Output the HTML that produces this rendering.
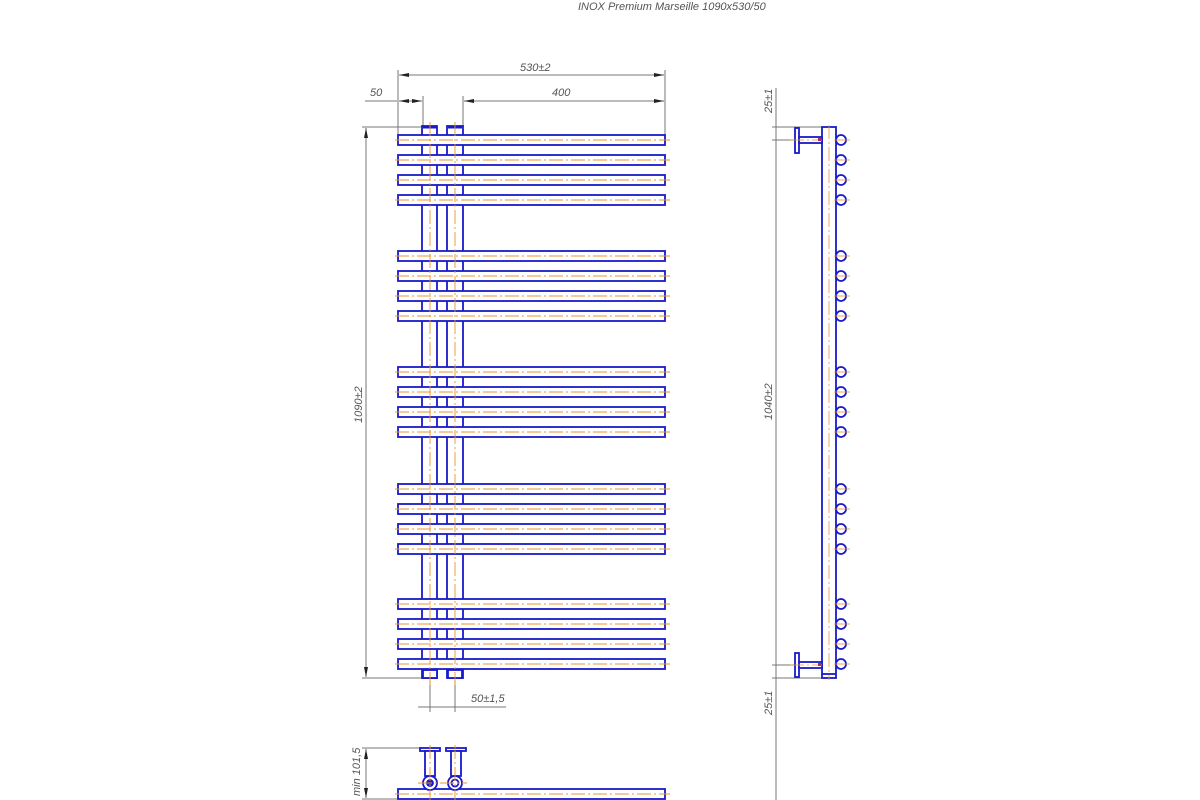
<!DOCTYPE html>
<html><head><style>body{margin:0;background:#fff}svg{display:block}text{font-family:"Liberation Sans",sans-serif;font-style:italic;fill:#555;font-size:11px}</style></head><body>
<svg width="1200" height="800" viewBox="0 0 1200 800">
<defs>
<marker id="a" viewBox="0 0 10 6" refX="10" refY="3" markerWidth="10" markerHeight="6" orient="auto-start-reverse" markerUnits="userSpaceOnUse"><path d="M0,1L10,3L0,5z" fill="#222"/></marker>
</defs>
<text x="578" y="10">INOX Premium Marseille 1090x530/50</text>
<g stroke="#777" stroke-width="1" fill="none">
<line x1="398" y1="70" x2="398" y2="135"/><line x1="665" y1="70" x2="665" y2="135"/>
<line x1="399" y1="75" x2="664" y2="75" marker-start="url(#a)" marker-end="url(#a)"/>
<line x1="423" y1="96" x2="423" y2="126"/><line x1="463" y1="96" x2="463" y2="126"/>
<line x1="365" y1="101" x2="397" y2="101"/>
<line x1="399" y1="101" x2="422" y2="101" marker-start="url(#a)" marker-end="url(#a)"/>
<line x1="464" y1="101" x2="664" y2="101" marker-start="url(#a)" marker-end="url(#a)"/>
<line x1="362" y1="127" x2="423" y2="127"/><line x1="362" y1="678" x2="423" y2="678"/>
<line x1="366" y1="128" x2="366" y2="677" marker-start="url(#a)" marker-end="url(#a)"/>
<line x1="430" y1="680" x2="430" y2="712"/><line x1="455" y1="680" x2="455" y2="712"/>
<line x1="418" y1="707" x2="506" y2="707"/>
<line x1="776" y1="88" x2="776" y2="800"/>
<line x1="772" y1="127" x2="822" y2="127"/><line x1="772" y1="140" x2="797" y2="140"/>
<line x1="772" y1="665" x2="797" y2="665"/><line x1="772" y1="678" x2="822" y2="678"/>
<line x1="362" y1="748" x2="420" y2="748"/><line x1="362" y1="799" x2="398" y2="799"/>
<line x1="366" y1="749" x2="366" y2="798" marker-start="url(#a)" marker-end="url(#a)"/>
</g>
<text x="520" y="71">530±2</text><text x="370" y="96">50</text><text x="552" y="96">400</text>
<text x="471" y="702">50±1,5</text>
<text transform="translate(362,423) rotate(-90)">1090±2</text>
<text transform="translate(772,420) rotate(-90)">1040±2</text>
<text transform="translate(772,113) rotate(-90)">25±1</text>
<text transform="translate(772,715) rotate(-90)">25±1</text>
<text transform="translate(360,796) rotate(-90)">min 101,5</text>
<g stroke="#1a1ac8" stroke-width="1.8" fill="#fff">
<rect x="422" y="126" width="15" height="552"/><rect x="447" y="126" width="16" height="552"/>
<rect x="423" y="670" width="14" height="8"/><rect x="448" y="670" width="14" height="8"/>
</g>
<g stroke="#1a1ac8" stroke-width="3"><line x1="423" y1="127" x2="437" y2="127"/><line x1="448" y1="127" x2="462" y2="127"/></g>
<g stroke="#1a1ac8" stroke-width="1.8" fill="#fff">
<rect x="398" y="135" width="267" height="10"/><rect x="398" y="155" width="267" height="10"/><rect x="398" y="175" width="267" height="10"/><rect x="398" y="195" width="267" height="10"/>
<rect x="398" y="251" width="267" height="10"/><rect x="398" y="271" width="267" height="10"/><rect x="398" y="291" width="267" height="10"/><rect x="398" y="311" width="267" height="10"/>
<rect x="398" y="367" width="267" height="10"/><rect x="398" y="387" width="267" height="10"/><rect x="398" y="407" width="267" height="10"/><rect x="398" y="427" width="267" height="10"/>
<rect x="398" y="484" width="267" height="10"/><rect x="398" y="504" width="267" height="10"/><rect x="398" y="524" width="267" height="10"/><rect x="398" y="544" width="267" height="10"/>
<rect x="398" y="599" width="267" height="10"/><rect x="398" y="619" width="267" height="10"/><rect x="398" y="639" width="267" height="10"/><rect x="398" y="659" width="267" height="10"/>
</g>
<g stroke="#e89530" stroke-width="0.9" stroke-dasharray="14,3,2,3">
<line x1="395" x2="670" y1="140" y2="140"/><line x1="395" x2="670" y1="160" y2="160"/><line x1="395" x2="670" y1="180" y2="180"/><line x1="395" x2="670" y1="200" y2="200"/>
<line x1="395" x2="670" y1="256" y2="256"/><line x1="395" x2="670" y1="276" y2="276"/><line x1="395" x2="670" y1="296" y2="296"/><line x1="395" x2="670" y1="316" y2="316"/>
<line x1="395" x2="670" y1="372" y2="372"/><line x1="395" x2="670" y1="392" y2="392"/><line x1="395" x2="670" y1="412" y2="412"/><line x1="395" x2="670" y1="432" y2="432"/>
<line x1="395" x2="670" y1="489" y2="489"/><line x1="395" x2="670" y1="509" y2="509"/><line x1="395" x2="670" y1="529" y2="529"/><line x1="395" x2="670" y1="549" y2="549"/>
<line x1="395" x2="670" y1="604" y2="604"/><line x1="395" x2="670" y1="624" y2="624"/><line x1="395" x2="670" y1="644" y2="644"/><line x1="395" x2="670" y1="664" y2="664"/>
<line x1="430" y1="122" x2="430" y2="685"/><line x1="455" y1="122" x2="455" y2="685"/>
</g>
<g stroke="#1a1ac8" stroke-width="1.8" fill="#fff">
<rect x="822" y="127" width="14" height="551"/>
<line x1="822" y1="674" x2="836" y2="674"/>
<rect x="795" y="128" width="4" height="25"/><rect x="799" y="137" width="23" height="6"/>
<rect x="795" y="653" width="4" height="24"/><rect x="799" y="662" width="23" height="6"/>
<circle cx="841" cy="140" r="5"/><circle cx="841" cy="160" r="5"/><circle cx="841" cy="180" r="5"/><circle cx="841" cy="200" r="5"/>
<circle cx="841" cy="256" r="5"/><circle cx="841" cy="276" r="5"/><circle cx="841" cy="296" r="5"/><circle cx="841" cy="316" r="5"/>
<circle cx="841" cy="372" r="5"/><circle cx="841" cy="392" r="5"/><circle cx="841" cy="412" r="5"/><circle cx="841" cy="432" r="5"/>
<circle cx="841" cy="489" r="5"/><circle cx="841" cy="509" r="5"/><circle cx="841" cy="529" r="5"/><circle cx="841" cy="549" r="5"/>
<circle cx="841" cy="604" r="5"/><circle cx="841" cy="624" r="5"/><circle cx="841" cy="644" r="5"/><circle cx="841" cy="664" r="5"/>
</g>
<g stroke="#e89530" stroke-width="0.8">
<line x1="834" x2="850" y1="140" y2="140"/><line x1="834" x2="850" y1="160" y2="160"/><line x1="834" x2="850" y1="180" y2="180"/><line x1="834" x2="850" y1="200" y2="200"/>
<line x1="834" x2="850" y1="256" y2="256"/><line x1="834" x2="850" y1="276" y2="276"/><line x1="834" x2="850" y1="296" y2="296"/><line x1="834" x2="850" y1="316" y2="316"/>
<line x1="834" x2="850" y1="372" y2="372"/><line x1="834" x2="850" y1="392" y2="392"/><line x1="834" x2="850" y1="412" y2="412"/><line x1="834" x2="850" y1="432" y2="432"/>
<line x1="834" x2="850" y1="489" y2="489"/><line x1="834" x2="850" y1="509" y2="509"/><line x1="834" x2="850" y1="529" y2="529"/><line x1="834" x2="850" y1="549" y2="549"/>
<line x1="834" x2="850" y1="604" y2="604"/><line x1="834" x2="850" y1="624" y2="624"/><line x1="834" x2="850" y1="644" y2="644"/><line x1="834" x2="850" y1="664" y2="664"/>
</g>
<g stroke="#e89530" stroke-width="0.8" stroke-dasharray="14,3,2,3"><line x1="829" y1="125" x2="829" y2="680"/><line x1="790" y1="140" x2="822" y2="140"/><line x1="790" y1="665" x2="822" y2="665"/></g>
<rect x="818" y="138" width="3" height="3" fill="#a03060"/><rect x="818" y="663" width="3" height="3" fill="#a03060"/>
<g stroke="#1a1ac8" stroke-width="1.8" fill="#fff">
<rect x="398" y="789" width="267" height="10"/>
<rect x="420" y="748" width="20" height="3"/><rect x="446" y="748" width="20" height="3"/>
<rect x="425" y="751" width="10" height="25"/><rect x="451" y="751" width="10" height="25"/>
<circle cx="430" cy="783" r="7"/><circle cx="455" cy="783" r="7"/>
<circle cx="430" cy="783" r="3" fill="#1a1ac8"/><circle cx="455" cy="783" r="3.5"/>
</g>
<g stroke="#e89530" stroke-width="0.9" stroke-dasharray="14,3,2,3"><line x1="395" x2="670" y1="794" y2="794"/><line x1="430" y1="745" x2="430" y2="800"/><line x1="455" y1="745" x2="455" y2="800"/><line x1="418" y1="783" x2="467" y2="783"/></g>
</svg>
</body></html>
